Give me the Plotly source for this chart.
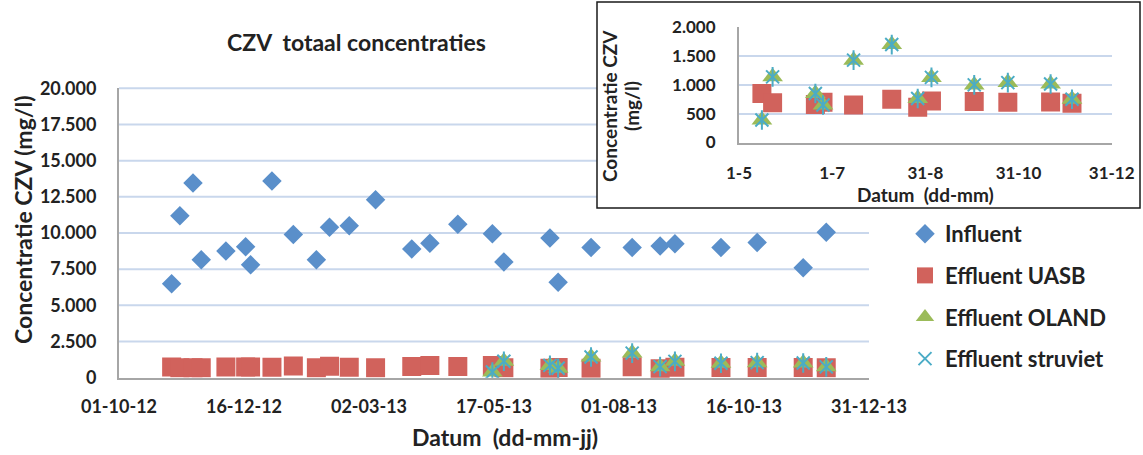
import plotly.graph_objects as go

# Sampling dates (influent and UASB effluent share the same dates)
dates = [
    "2012-11-02", "2012-11-07", "2012-11-15", "2012-11-20", "2012-12-05",
    "2012-12-17", "2012-12-20", "2013-01-02", "2013-01-15", "2013-01-29",
    "2013-02-06", "2013-02-18", "2013-03-06", "2013-03-28", "2013-04-08",
    "2013-04-25", "2013-05-16", "2013-05-23", "2013-06-20", "2013-06-25",
    "2013-07-15", "2013-08-09", "2013-08-26", "2013-09-04", "2013-10-02",
    "2013-10-24", "2013-11-21", "2013-12-05",
]
influent = [
    6500, 11200, 13450, 8150, 8750, 9050, 7800, 13600, 9900, 8150,
    10400, 10500, 12300, 8900, 9300, 10600, 9950, 8000, 9650, 6600,
    9000, 9000, 9100, 9250, 9000, 9350, 7600, 10050,
]
effluent_uasb = [
    740, 680, 680, 680, 740, 740, 740, 720, 800, 680,
    790, 720, 680, 780, 840, 780, 850, 690, 660, 700,
    650, 750, 610, 720, 710, 700, 705, 680,
]

# OLAND and struvite effluent (measured from mid May 2013)
dates_post = [
    "2013-05-16", "2013-05-23", "2013-06-20", "2013-06-25", "2013-07-15",
    "2013-08-09", "2013-08-26", "2013-09-04", "2013-10-02", "2013-10-24",
    "2013-11-21", "2013-12-05",
]
effluent_oland = [390, 1140, 850, 650, 1430, 1700, 765, 1130, 1000, 1040, 1015, 750]
effluent_struviet = [390, 1140, 850, 650, 1430, 1700, 765, 1130, 1000, 1040, 1015, 750]

# Axis ticks
main_yticks = [0, 2500, 5000, 7500, 10000, 12500, 15000, 17500, 20000]
main_xticks = ["2012-10-01", "2012-12-16", "2013-03-02", "2013-05-17",
               "2013-08-01", "2013-10-16", "2013-12-31"]
main_xlabels = ["01-10-12", "16-12-12", "02-03-13", "17-05-13",
                "01-08-13", "16-10-13", "31-12-13"]
inset_yticks = [0, 500, 1000, 1500, 2000]
inset_xticks = ["2013-05-01", "2013-07-01", "2013-08-31", "2013-10-31", "2013-12-31"]
inset_xlabels = ["1-5", "1-7", "31-8", "31-10", "31-12"]

W, H = 1143, 455
FONT = "Lato"
TXT = "#222222"
C_INF = "#5A8FCA"
C_UASB = "#D1625C"
C_OLAND = "#9BBB59"
C_STRU = "#4BACC6"
GRID = "#C9D7EC"
AXIS = "#A6A6A6"


def px(x):
    return x / W


def py(y):
    return 1 - y / H


# plot-area geometry (pixels)
MX0, MX1, MY0, MY1 = 119, 869, 88.3, 377.7
IX0, IX1, IY0, IY1 = 739, 1111.7, 27.3, 142.5
BOX = (597, 2, 1140, 208)
MAIN_YMAX = 20000

fig = go.Figure()


def effluent_traces(xd, yd, xo, yo, xs, ys, xa, ya, legend):
    fig.add_trace(go.Scatter(
        x=xd, y=yd, mode="markers", name="Effluent UASB", legendgroup="uasb",
        showlegend=legend, xaxis=xa, yaxis=ya,
        marker=dict(symbol="square", size=19, color=C_UASB)))
    fig.add_trace(go.Scatter(
        x=xo, y=yo, mode="markers", name="Effluent OLAND", legendgroup="oland",
        showlegend=legend, xaxis=xa, yaxis=ya,
        marker=dict(symbol="triangle-up", size=18, color=C_OLAND)))
    # struvite marker: a thin X with a vertical stroke through it
    fig.add_trace(go.Scatter(
        x=xs, y=ys, mode="markers", name="Effluent struviet", legendgroup="stru",
        showlegend=legend, xaxis=xa, yaxis=ya,
        marker=dict(symbol="x-thin-open", size=13,
                    line=dict(color=C_STRU, width=2), color=C_STRU)))
    fig.add_trace(go.Scatter(
        x=xs, y=ys, mode="markers", name="Effluent struviet", legendgroup="stru",
        showlegend=False, xaxis=xa, yaxis=ya, hoverinfo="skip",
        marker=dict(symbol="line-ns-open", size=14,
                    line=dict(color=C_STRU, width=2), color=C_STRU)))


# main chart
fig.add_trace(go.Scatter(
    x=dates, y=influent, mode="markers", name="Influent", legendgroup="inf",
    xaxis="x", yaxis="y",
    marker=dict(symbol="diamond", size=15, color=C_INF)))
effluent_traces(dates, effluent_uasb, dates_post, effluent_oland,
                dates_post, effluent_struviet, "x", "y", True)

# inset: effluent only, from May 2013
sel = [i for i, d in enumerate(dates) if d >= "2013-05-01"]
effluent_traces([dates[i] for i in sel], [effluent_uasb[i] for i in sel],
                dates_post, effluent_oland, dates_post, effluent_struviet,
                "x2", "y2", False)

shapes = []
# main horizontal gridlines; those behind the inset stop at its frame
d0, d1 = py(MY1), py(MY0)
for v in main_yticks[1:]:
    yp = d0 + (d1 - d0) * v / MAIN_YMAX
    ypix = (1 - yp) * H
    x_end = BOX[0] if ypix <= BOX[3] else MX1
    shapes.append(dict(type="line", xref="paper", yref="paper",
                       x0=px(MX0), x1=px(x_end), y0=yp, y1=yp,
                       line=dict(color=GRID, width=2), layer="below"))
# inset frame
shapes.append(dict(type="rect", xref="paper", yref="paper",
                   x0=px(BOX[0]), x1=px(BOX[2]), y0=py(BOX[3]), y1=py(BOX[1]),
                   fillcolor="white", line=dict(color="#1A1A1A", width=1.5),
                   layer="below"))

tickfont = dict(family=FONT, size=18, color=TXT, weight="bold")
itickfont = dict(family=FONT, size=17, color=TXT, weight="bold")


def label(text, x, y, size, angle=0):
    return dict(text=text, xref="paper", yref="paper", x=px(x), y=py(y),
                xanchor="center", yanchor="middle", textangle=angle,
                showarrow=False,
                font=dict(family=FONT, size=size, color=TXT, weight="bold"))


fig.update_layout(
    width=W, height=H,
    margin=dict(l=0, r=0, t=0, b=0),
    paper_bgcolor="white", plot_bgcolor="rgba(0,0,0,0)",
    shapes=shapes,
    showlegend=True,
    legend=dict(x=px(905), y=py(213), xanchor="left", yanchor="top",
                font=dict(family=FONT, size=22, color=TXT, weight="bold"),
                tracegroupgap=10, bgcolor="rgba(0,0,0,0)"),
    xaxis=dict(domain=[px(MX0), px(MX1)], anchor="y", type="date",
               range=[main_xticks[0], main_xticks[-1]],
               tickvals=main_xticks, ticktext=main_xlabels,
               showgrid=False, zeroline=False,
               showline=True, linecolor=AXIS, linewidth=2,
               ticks="outside", ticklen=12, tickcolor="rgba(0,0,0,0)",
               tickfont=tickfont, automargin=False),
    yaxis=dict(domain=[py(MY1), py(MY0)], anchor="x",
               range=[0, MAIN_YMAX], tickvals=main_yticks,
               ticktext=[f"{v:,}".replace(",", ".") for v in main_yticks],
               showgrid=False, zeroline=False,
               showline=True, linecolor=AXIS, linewidth=2,
               ticks="outside", ticklen=17, tickcolor="rgba(0,0,0,0)",
               tickfont=tickfont, automargin=False),
    xaxis2=dict(domain=[px(IX0), px(IX1)], anchor="y2", type="date",
                range=[inset_xticks[0], inset_xticks[-1]],
                tickvals=inset_xticks, ticktext=inset_xlabels,
                showgrid=False, zeroline=False,
                showline=True, linecolor=AXIS, linewidth=2,
                ticks="outside", ticklen=14, tickcolor="rgba(0,0,0,0)",
                tickfont=itickfont, automargin=False),
    yaxis2=dict(domain=[py(IY1), py(IY0)], anchor="x2",
                range=[0, 2000], tickvals=inset_yticks,
                ticktext=[f"{v:,}".replace(",", ".") for v in inset_yticks],
                showgrid=True, gridcolor=GRID, gridwidth=2, zeroline=False,
                showline=True, linecolor=AXIS, linewidth=2,
                ticks="outside", ticklen=18, tickcolor="rgba(0,0,0,0)",
                tickfont=itickfont, automargin=False),
    annotations=[
        label("CZV  totaal concentraties", 356, 42, 23),
        label("Concentratie CZV (mg/l)", 23, 220, 23, -90),
        label("Datum  (dd-mm-jj)", 505, 437, 23),
        label("Concentratie CZV", 609, 106, 19, -90),
        label("(mg/l)", 631, 106, 19, -90),
        label("Datum  (dd-mm)", 925, 194, 19),
    ],
)

fig.write_html("out.html")
